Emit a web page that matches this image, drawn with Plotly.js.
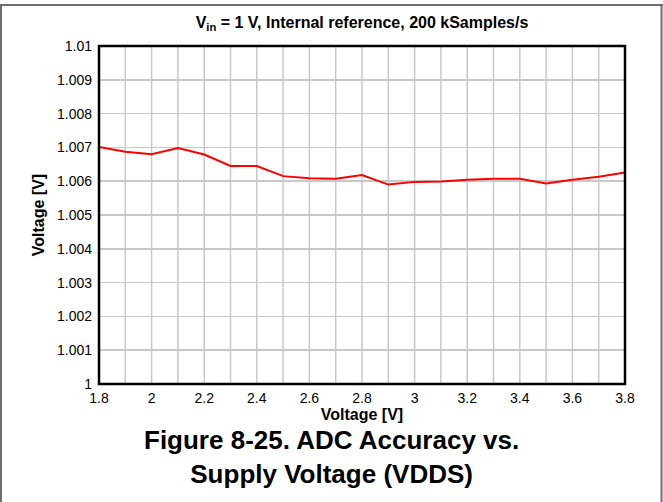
<!DOCTYPE html>
<html>
<head>
<meta charset="utf-8">
<script src="https://cdn.plot.ly/plotly-3.0.1.min.js"></script>
<style>
html,body{margin:0;padding:0;background:#fff;}
#chart{width:663px;height:502px;}
</style>
</head>
<body>
<div id="chart"></div>
<script>
// Data
const supplyVoltage = [1.8, 1.9, 2.0, 2.1, 2.2, 2.3, 2.4, 2.5, 2.6, 2.7, 2.8, 2.9, 3.0, 3.1, 3.2, 3.3, 3.4, 3.5, 3.6, 3.7, 3.8];
const measuredVoltage = [1.00701, 1.00687, 1.0068, 1.00698, 1.00679, 1.00645, 1.00645, 1.00615, 1.00609, 1.00607, 1.00618, 1.0059, 1.00598, 1.00599, 1.00604, 1.00607, 1.00607, 1.00593, 1.00604, 1.00613, 1.00626];
const xTicks = [1.8, 2, 2.2, 2.4, 2.6, 2.8, 3, 3.2, 3.4, 3.6, 3.8];
const yTicks = [1, 1.001, 1.002, 1.003, 1.004, 1.005, 1.006, 1.007, 1.008, 1.009, 1.01];
const titleText = 'V<sub>in</sub> = 1 V, Internal reference, 200 kSamples/s';
const captionText = 'Figure 8-25. ADC Accuracy vs.<br>Supply Voltage (VDDS)';

const W = 663, H = 502;
const L = 99, R = 38, T = 46, B = 118;
const pw = W - L - R, ph = H - T - B;
const px = v => (v - L) / pw;
const py = v => (H - B - v) / ph;

const trace = {
  x: supplyVoltage,
  y: measuredVoltage,
  type: 'scatter',
  mode: 'lines',
  line: {color: '#ff0000', width: 2},
  hoverinfo: 'skip'
};

const font = 'Liberation Sans, Arial, sans-serif';
const frameColor = '#6e6e6e';

const layout = {
  width: W, height: H,
  margin: {l: L, r: R, t: T, b: B, pad: 0},
  paper_bgcolor: '#ffffff',
  plot_bgcolor: '#ffffff',
  showlegend: false,
  font: {family: font, color: '#000000', size: 13},
  title: {
    text: '<b>' + titleText + '</b>',
    font: {family: font, size: 16, color: '#000'},
    x: px(362), xanchor: 'center', xref: 'paper',
    y: 1 - 22 / H, yanchor: 'middle', yref: 'container'
  },
  xaxis: {
    range: [1.8, 3.8],
    tickvals: xTicks,
    ticktext: xTicks.map(v => String(v)),
    showgrid: false,
    zeroline: false,
    showline: false,
    ticks: '',
    tickfont: {family: font, size: 14, color: '#000'},
    ticklabelstandoff: 4,
    title: {text: '<b>Voltage [V]</b>', font: {family: font, size: 16, color: '#000'}, standoff: 0}
  },
  yaxis: {
    range: [1, 1.01],
    tickvals: yTicks,
    ticktext: yTicks.map(v => String(v)),
    showgrid: true,
    gridcolor: '#c8c8c8',
    gridwidth: 1.5,
    zeroline: false,
    showline: false,
    ticks: '',
    tickfont: {family: font, size: 14, color: '#000'},
    ticklabelstandoff: 6,
    title: {text: '<b>Voltage [V]</b>', font: {family: font, size: 16, color: '#000'}, standoff: 8}
  },
  shapes: [],
  annotations: [{
    text: '<b>' + captionText + '</b>',
    xref: 'paper', yref: 'paper',
    x: px(331.5), y: py(457),
    xanchor: 'center', yanchor: 'middle',
    showarrow: false,
    font: {family: font, size: 26, color: '#000'}
  }]
};

// vertical grid lines every 0.1 V
for (let i = 1; i < 20; i++) {
  const xv = 1.8 + i * 0.1;
  layout.shapes.push({type: 'line', xref: 'x', yref: 'paper', x0: xv, x1: xv, y0: 0, y1: 1,
    line: {color: '#c8c8c8', width: 1.5}, layer: 'below'});
}
// plot border
layout.shapes.push({type: 'rect', xref: 'paper', yref: 'paper', x0: 0, x1: 1, y0: 0, y1: 1,
  line: {color: '#000', width: 2.5}, layer: 'above'});
// outer frame lines
layout.shapes.push({type: 'line', xref: 'paper', yref: 'paper', x0: px(0), x1: px(W), y0: py(5), y1: py(5),
  line: {color: frameColor, width: 2}});
layout.shapes.push({type: 'line', xref: 'paper', yref: 'paper', x0: px(1), x1: px(1), y0: py(5), y1: py(H),
  line: {color: frameColor, width: 2}});
layout.shapes.push({type: 'line', xref: 'paper', yref: 'paper', x0: px(661.5), x1: px(661.5), y0: py(5), y1: py(H),
  line: {color: frameColor, width: 2}});

Plotly.newPlot('chart', [trace], layout, {displayModeBar: false, staticPlot: true});
</script>
</body>
</html>
